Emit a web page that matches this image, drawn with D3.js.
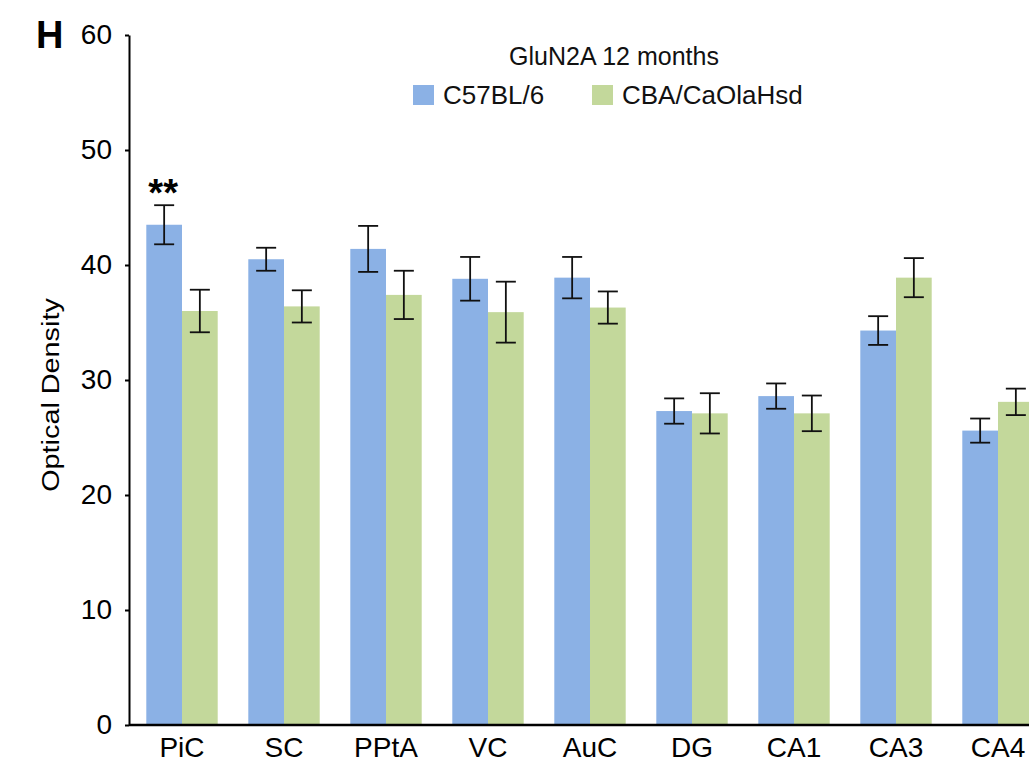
<!DOCTYPE html>
<html>
<head>
<meta charset="utf-8">
<script src="https://cdn.jsdelivr.net/npm/d3@7"></script>
<style>
  html, body { margin: 0; padding: 0; background: #fff; }
  svg { display: block; font-family: "Liberation Sans", Arial, sans-serif; }
</style>
</head>
<body>
<svg id="chart" width="1029" height="764"></svg>
<script>
const categories = ["PiC", "SC", "PPtA", "VC", "AuC", "DG", "CA1", "CA3", "CA4"];
const seriesNames = ["C57BL/6", "CBA/CaOlaHsd"];
const c57Values = [43.5, 40.5, 41.4, 38.8, 38.9, 27.3, 28.6, 34.3, 25.6];
const c57Errors = [1.7, 1.0, 2.0, 1.9, 1.8, 1.1, 1.1, 1.25, 1.05];
const cbaValues = [36.0, 36.4, 37.4, 35.9, 36.3, 27.1, 27.1, 38.9, 28.1];
const cbaErrors = [1.85, 1.4, 2.1, 2.65, 1.4, 1.75, 1.55, 1.7, 1.15];
const yTicks = [0, 10, 20, 30, 40, 50, 60];
const significance = [{ category: "PiC", series: 0, label: "**" }];
const colors = ["#8bb1e5", "#c3d89b"];

const svg = d3.select("#chart");
const x0 = 129, y0 = 725, yTop = 35;

const y = d3.scaleLinear().domain([0, 60]).range([y0, yTop]);
const x = d3.scaleBand().domain(categories).range([x0 + 2, x0 + 2 + 9 * 102]).paddingInner(0.3).paddingOuter(0.15);
const xs = d3.scaleBand().domain([0, 1]).range([0, x.bandwidth()]);

const data = categories.map((c, i) => ({
  cat: c,
  vals: [
    { s: 0, v: c57Values[i], e: c57Errors[i] },
    { s: 1, v: cbaValues[i], e: cbaErrors[i] }
  ]
}));

// bars
const g = svg.append("g");
const groups = g.selectAll("g.grp").data(data).enter().append("g")
  .attr("transform", d => `translate(${x(d.cat)},0)`);
groups.selectAll("rect").data(d => d.vals).enter().append("rect")
  .attr("x", d => xs(d.s))
  .attr("y", d => y(d.v))
  .attr("width", xs.bandwidth())
  .attr("height", d => y(0) - y(d.v))
  .attr("fill", d => colors[d.s]);

// error bars
const capW = 10;
const eb = groups.selectAll("g.eb").data(d => d.vals).enter().append("g")
  .attr("stroke", "#111").attr("stroke-width", 1.8);
eb.append("line")
  .attr("x1", d => xs(d.s) + xs.bandwidth() / 2).attr("x2", d => xs(d.s) + xs.bandwidth() / 2)
  .attr("y1", d => y(d.v + d.e)).attr("y2", d => y(d.v - d.e));
eb.append("line")
  .attr("x1", d => xs(d.s) + xs.bandwidth() / 2 - capW).attr("x2", d => xs(d.s) + xs.bandwidth() / 2 + capW)
  .attr("y1", d => y(d.v + d.e)).attr("y2", d => y(d.v + d.e));
eb.append("line")
  .attr("x1", d => xs(d.s) + xs.bandwidth() / 2 - capW).attr("x2", d => xs(d.s) + xs.bandwidth() / 2 + capW)
  .attr("y1", d => y(d.v - d.e)).attr("y2", d => y(d.v - d.e));

// significance
significance.forEach(sg => {
  const i = categories.indexOf(sg.category);
  const val = sg.series === 0 ? c57Values[i] + c57Errors[i] : cbaValues[i] + cbaErrors[i];
  svg.append("text")
    .attr("x", x(sg.category) + xs(sg.series) + xs.bandwidth() / 2 - 1)
    .attr("y", y(val) + 1)
    .attr("text-anchor", "middle")
    .attr("font-size", 38).attr("font-weight", "bold")
    .text(sg.label);
});

// y axis
const yAxis = d3.axisLeft(y).tickValues(yTicks).tickSize(4).tickSizeOuter(0).tickPadding(13);
const ya = svg.append("g").attr("transform", `translate(${x0},0)`).call(yAxis);
ya.select(".domain").attr("stroke", "#000").attr("stroke-width", 2);
ya.selectAll(".tick line").attr("stroke", "#000").attr("stroke-width", 2);
ya.selectAll(".tick text").attr("font-size", 28).attr("fill", "#000")
  .attr("font-family", "'Liberation Sans', Arial, sans-serif");

// x axis
const xAxis = d3.axisBottom(x).tickSize(0).tickPadding(12);
const xa = svg.append("g").attr("transform", `translate(0,${y0})`).call(xAxis);
xa.select(".domain").remove();
svg.append("line").attr("x1", x0).attr("x2", 1029).attr("y1", y0).attr("y2", y0)
  .attr("stroke", "#000").attr("stroke-width", 2.5);
xa.selectAll(".tick text").attr("font-size", 28).attr("fill", "#000")
  .attr("font-family", "'Liberation Sans', Arial, sans-serif");

// y title
svg.append("text")
  .attr("transform", `translate(59,395) rotate(-90) scale(1.2,1)`)
  .attr("text-anchor", "middle").attr("font-size", 24).attr("fill", "#000")
  .text("Optical Density");

// panel label
svg.append("text").attr("x", 36).attr("y", 48).attr("font-size", 38).attr("font-weight", "bold")
  .attr("font-family", "'Liberation Sans', Arial, sans-serif").text("H");

// legend
svg.append("text").attr("x", 614).attr("y", 65).attr("text-anchor", "middle")
  .attr("font-size", 25).attr("fill", "#111").text("GluN2A 12 months");
const legX = [413, 592];
seriesNames.forEach((n, i) => {
  svg.append("rect").attr("x", legX[i]).attr("y", 85).attr("width", 21).attr("height", 20)
    .attr("fill", colors[i]);
  svg.append("text").attr("x", legX[i] + 30).attr("y", 104).attr("font-size", 26)
    .attr("fill", "#111").text(n);
});
</script>
</body>
</html>
